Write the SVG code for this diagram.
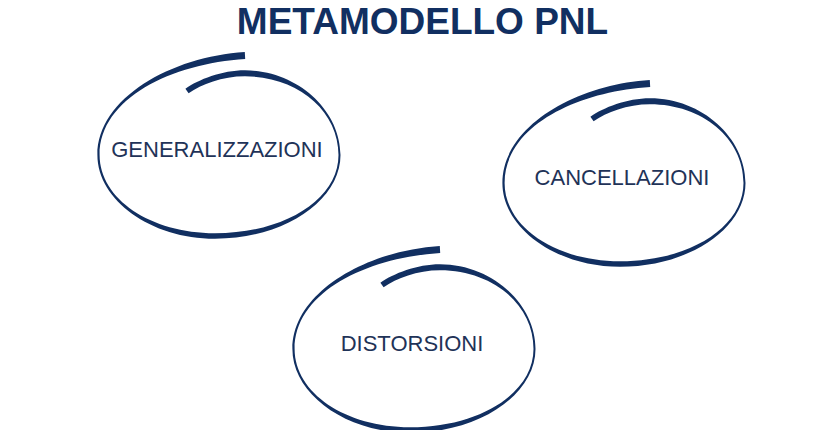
<svg xmlns="http://www.w3.org/2000/svg" xmlns:xlink="http://www.w3.org/1999/xlink" width="840" height="430" viewBox="0 0 840 430">
<style>
.loop{fill:#112f61;stroke:none}
.title{font-family:"Liberation Sans",Arial,sans-serif;font-weight:bold;font-size:37px;fill:#112f61;text-anchor:middle}
.label{font-family:"Liberation Sans",Arial,sans-serif;font-size:22px;fill:#1f3358;text-anchor:middle}
</style>
<defs>
<path id="loop" class="loop" d="M 244.8,52 C 171.8,56.5 97.4,98 97.4,155 C 97.4,200 150.7,238.75 215,238.75 C 285,238.75 340.5,200 340.5,155 C 340.5,110 297,70.3 245,70.3 C 222,70.3 198.4,79.7 185.4,88.7 L 188.6,93.3 C 201.6,84.3 222,76.3 245,76.3 C 297,76.3 338.5,110 338.5,155 C 338.5,199 285,233.25 215,233.25 C 150.7,233.25 99.6,199 99.6,155 C 99.6,98 172.2,63.5 245.2,59 Z"/>
</defs>
<rect width="840" height="430" fill="#ffffff"/>
<text class="title" x="422.5" y="34">METAMODELLO PNL</text>
<g id="connectors"></g>
<g id="node-generalizzazioni">
<use xlink:href="#loop" href="#loop"/>
<text class="label" x="217" y="157">GENERALIZZAZIONI</text>
</g>
<g id="node-cancellazioni">
<use xlink:href="#loop" href="#loop" transform="translate(405,28)"/>
<text class="label" x="622" y="185">CANCELLAZIONI</text>
</g>
<g id="node-distorsioni">
<use xlink:href="#loop" href="#loop" transform="translate(195,194)"/>
<text class="label" x="412" y="351">DISTORSIONI</text>
</g>
</svg>
